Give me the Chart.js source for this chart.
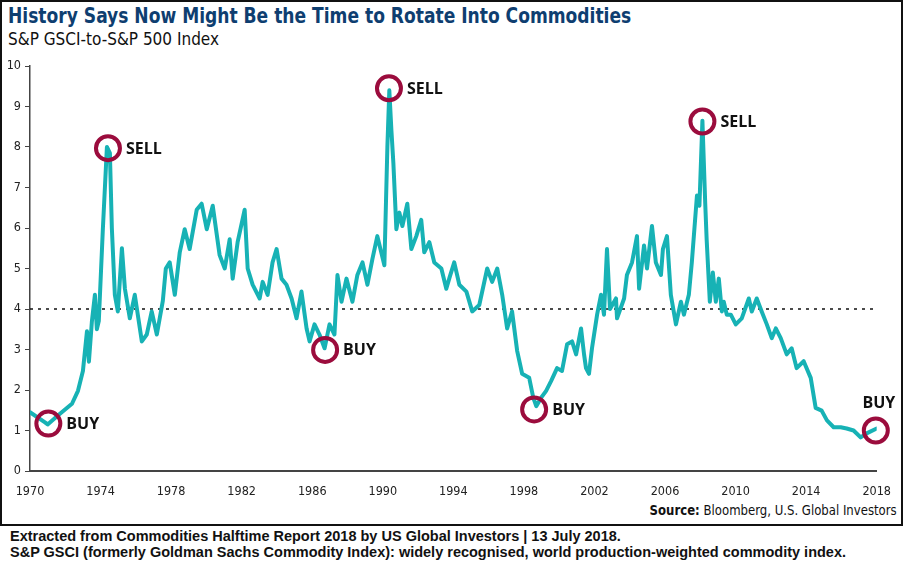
<!DOCTYPE html>
<html>
<head>
<meta charset="utf-8">
<script src="https://cdn.jsdelivr.net/npm/chart.js@4/dist/chart.umd.min.js"></script>
<style>
    body { margin: 0; background: #fff; width: 904px; height: 567px; position: relative; overflow: hidden; }
    .frame { position: absolute; left: 0; top: 0; width: 903px; height: 526px; border: 2px solid #111; box-sizing: border-box; }
    .title { position: absolute; left: 8px; top: 3px; font-family: "DejaVu Sans Condensed", sans-serif; font-weight: bold; font-size: 22px; color: #0e3e70; transform: scaleX(0.864); transform-origin: left center; white-space: nowrap; }
    .subtitle { position: absolute; left: 8px; top: 29px; font-family: "DejaVu Sans Condensed", sans-serif; font-size: 17px; color: #111; }
    .source { position: absolute; right: 7px; top: 502px; font-family: "DejaVu Sans Condensed", sans-serif; font-size: 14px; color: #111; transform: scaleX(0.93); transform-origin: right center; white-space: nowrap; }
    .footer { position: absolute; left: 10px; font-family: "Liberation Sans", Arial, sans-serif; font-weight: bold; font-size: 14.5px; color: #111; white-space: nowrap; }
    #wrap { position: absolute; left: 0; top: 50px; width: 904px; height: 451px; }
</style>
</head>
<body>
<div class="frame"></div>
<div class="title">History Says Now Might Be the Time to Rotate Into Commodities</div>
<div class="subtitle">S&amp;P GSCI-to-S&amp;P 500 Index</div>
<div id="wrap"><canvas id="chart"></canvas></div>
<div class="source"><b>Source:</b> Bloomberg, U.S. Global Investors</div>
<div class="footer" style="top:528px">Extracted from Commodities Halftime Report 2018 by US Global Investors | 13 July 2018.</div>
<div class="footer" style="top:544px">S&amp;P GSCI (formerly Goldman Sachs Commodity Index): widely recognised, world production-weighted commodity index.</div>

<script>
// S&P GSCI-to-S&P 500 ratio
const years = [
    1970.00, 1970.85, 1971.00, 1971.58, 1972.38, 1972.72, 1973.00, 1973.23, 1973.34, 1973.51,
    1973.68, 1973.79, 1973.90, 1974.13, 1974.36, 1974.53, 1974.64, 1974.81, 1974.98, 1975.21,
    1975.38, 1975.66, 1975.94, 1976.34, 1976.62, 1976.90, 1977.19, 1977.53, 1977.70, 1977.92,
    1978.21, 1978.49, 1978.77, 1979.05, 1979.45, 1979.73, 1980.02, 1980.36, 1980.75, 1981.04,
    1981.32, 1981.49, 1981.77, 1982.17, 1982.34, 1982.62, 1983.02, 1983.19, 1983.47, 1983.75,
    1983.98, 1984.26, 1984.54, 1984.83, 1985.11, 1985.39, 1985.68, 1985.85, 1986.13, 1986.41,
    1986.70, 1986.98, 1987.26, 1987.43, 1987.66, 1987.94, 1988.28, 1988.56, 1988.85, 1989.13,
    1989.41, 1989.69, 1990.09, 1990.26, 1990.37, 1990.49, 1990.60, 1990.77, 1990.94, 1991.11,
    1991.39, 1991.62, 1991.90, 1992.18, 1992.35, 1992.64, 1992.92, 1993.32, 1993.60, 1993.80,
    1994.05, 1994.34, 1994.74, 1995.07, 1995.47, 1995.92, 1996.20, 1996.49, 1996.77, 1997.05,
    1997.33, 1997.62, 1997.90, 1998.30, 1998.53, 1998.70, 1998.98, 1999.26, 1999.54, 1999.88,
    2000.16, 2000.45, 2000.73, 2000.96, 2001.24, 2001.41, 2001.52, 2001.69, 2001.86, 2002.15,
    2002.37, 2002.54, 2002.71, 2002.88, 2003.22, 2003.28, 2003.68, 2003.84, 2004.13, 2004.41,
    2004.53, 2004.81, 2004.98, 2005.26, 2005.48, 2005.77, 2005.88, 2006.11, 2006.33, 2006.62,
    2006.90, 2007.07, 2007.35, 2007.52, 2007.81, 2007.95, 2008.12, 2008.28, 2008.36, 2008.54,
    2008.71, 2008.88, 2009.05, 2009.22, 2009.33, 2009.50, 2009.73, 2010.01, 2010.35, 2010.75,
    2010.92, 2011.20, 2011.48, 2011.77, 2012.05, 2012.28, 2012.56, 2012.90, 2013.18, 2013.46,
    2013.86, 2014.26, 2014.54, 2014.88, 2015.18, 2015.56, 2015.96, 2016.30, 2016.69, 2017.09,
    2017.43, 2018.00
];
const ratio = [
    1.45, 1.20, 1.15, 1.37, 1.66, 1.98, 2.47, 3.45, 2.70, 3.70,
    4.35, 3.50, 3.70, 5.97, 8.00, 7.85, 6.00, 4.35, 3.94, 5.50,
    4.50, 3.77, 4.35, 3.20, 3.37, 3.94, 3.37, 4.20, 5.00, 5.15,
    4.35, 5.40, 5.97, 5.48, 6.45, 6.60, 5.97, 6.55, 5.33, 5.00,
    5.72, 4.75, 5.65, 6.45, 5.00, 4.60, 4.26, 4.67, 4.35, 5.15,
    5.48, 4.75, 4.60, 4.26, 3.77, 4.43, 3.52, 3.20, 3.62, 3.37,
    3.03, 3.62, 3.37, 4.84, 4.18, 4.75, 4.18, 4.84, 5.15, 4.60,
    5.23, 5.80, 5.08, 8.00, 9.40, 8.40, 7.60, 5.97, 6.38, 6.05,
    6.60, 5.48, 5.80, 6.20, 5.40, 5.65, 5.15, 5.00, 4.50, 4.80,
    5.15, 4.60, 4.43, 3.94, 4.10, 5.00, 4.67, 5.00, 4.35, 3.52,
    3.94, 2.96, 2.40, 2.30, 1.81, 1.60, 1.81, 1.98, 2.22, 2.54,
    2.47, 3.13, 3.20, 2.88, 3.52, 2.88, 2.54, 2.40, 3.03, 3.86,
    4.35, 3.86, 5.48, 4.00, 4.26, 3.77, 4.26, 4.84, 5.15, 5.80,
    4.50, 5.57, 5.00, 6.05, 5.15, 4.84, 5.48, 5.80, 4.35, 3.62,
    4.18, 3.86, 4.35, 5.15, 6.80, 6.55, 8.65, 6.60, 5.72, 4.18,
    4.90, 4.18, 4.75, 3.94, 4.18, 3.86, 3.86, 3.62, 3.77, 4.26,
    3.94, 4.26, 3.94, 3.62, 3.28, 3.52, 3.28, 2.88, 3.03, 2.54,
    2.71, 2.30, 1.56, 1.49, 1.25, 1.08, 1.08, 1.05, 1.00, 0.83,
    0.93, 1.05
];

// Buy / sell signals marked with circles
const signalYears = [1971.04, 1974.42, 1986.73, 1990.35, 1998.58, 2008.12, 2017.95];
const signalValues = [1.17, 7.97, 2.99, 9.45, 1.52, 8.63, 1.00];
const signalLabels = ['BUY', 'SELL', 'BUY', 'SELL', 'BUY', 'SELL', 'BUY'];

// Long-run average level (dotted line)
const averageLevel = 4;
const xTickLabels = ['1970', '1974', '1978', '1982', '1986', '1990', '1994', '1998', '2002', '2006', '2010', '2014', '2018'];
const yTickLabels = ['0', '1', '2', '3', '4', '5', '6', '7', '8', '9', '10'];

const xMin = Number(xTickLabels[0]);
const xMax = Number(xTickLabels[xTickLabels.length - 1]);
const tickFont = { family: '"DejaVu Sans Condensed", sans-serif', size: 12.5 };

// Write BUY / SELL next to each circle
const signalText = {
    id: 'signalText',
    afterDatasetsDraw(chart) {
        const meta = chart.getDatasetMeta(2);
        const ctx = chart.ctx;
        ctx.save();
        ctx.font = 'bold 16px "Open Sans", sans-serif';
        ctx.fillStyle = '#111';
        ctx.textBaseline = 'middle';
        meta.data.forEach((pt, i) => {
            if (pt.x > chart.chartArea.right - 30) {
                ctx.textAlign = 'center';
                ctx.fillText(signalLabels[i], pt.x + 3, pt.y - 27);
            } else {
                ctx.textAlign = 'left';
                ctx.fillText(signalLabels[i], pt.x + 18, pt.y + 1);
            }
        });
        ctx.restore();
    }
};

const ctx = document.getElementById('chart').getContext('2d');
new Chart(ctx, {
    type: 'line',
    data: {
        datasets: [
            {
                label: 'Average',
                data: [{x: xMin, y: averageLevel}, {x: xMax, y: averageLevel}],
                borderColor: '#111',
                borderWidth: 1.5,
                borderDash: [3, 5],
                pointRadius: 0,
                order: 3
            },
            {
                label: 'S&P GSCI-to-S&P 500',
                data: years.map((y, i) => ({x: y, y: ratio[i]})),
                borderColor: '#17b2b5',
                borderWidth: 4,
                pointRadius: 0,
                tension: 0,
                borderJoinStyle: 'round',
                borderCapStyle: 'round',
                order: 2
            },
            {
                label: 'Signals',
                data: signalYears.map((y, i) => ({x: y, y: signalValues[i]})),
                showLine: false,
                clip: false,
                pointStyle: 'circle',
                pointRadius: 12,
                pointBorderWidth: 4,
                pointBorderColor: '#9b0c3d',
                pointBackgroundColor: 'rgba(0,0,0,0)',
                order: 1
            }
        ]
    },
    options: {
        responsive: true,
        maintainAspectRatio: false,
        animation: false,
        layout: { padding: { top: 12, right: 26, left: 0, bottom: 0 } },
        plugins: {
            legend: { display: false },
            tooltip: { enabled: false }
        },
        scales: {
            x: {
                type: 'linear',
                min: xMin,
                max: xMax,
                afterBuildTicks: s => { s.ticks = xTickLabels.map(v => ({value: Number(v)})); },
                afterFit: s => { s.height = 30; },
                grid: { display: false, drawTicks: false },
                border: { display: true, color: '#444', width: 2 },
                ticks: {
                    padding: 13,
                    maxRotation: 0,
                    autoSkip: false,
                    color: '#222',
                    font: tickFont,
                    callback: v => String(v)
                }
            },
            y: {
                min: 0,
                max: 10,
                afterBuildTicks: s => { s.ticks = yTickLabels.map(v => ({value: Number(v)})); },
                afterFit: s => { s.width = 30; },
                grid: { drawOnChartArea: false, drawTicks: true, tickLength: 5, color: '#444' },
                border: { display: true, color: '#444', width: 1.5 },
                ticks: {
                    padding: 4,
                    color: '#222',
                    font: tickFont,
                    callback: v => String(v)
                }
            }
        }
    },
    plugins: [signalText]
});
</script>
</body>
</html>
